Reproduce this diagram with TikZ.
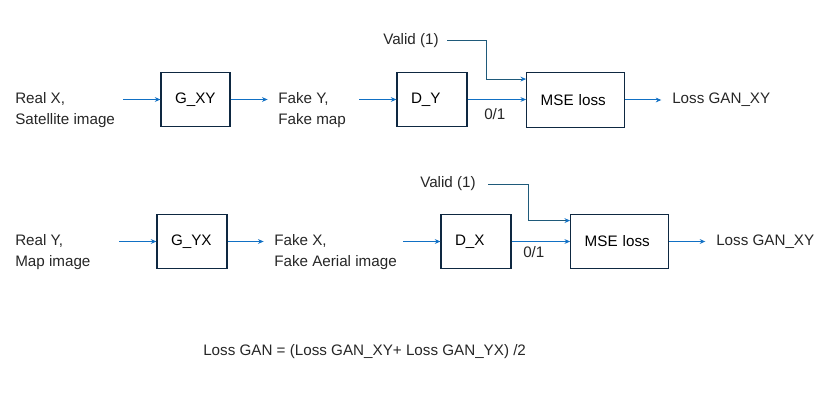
\documentclass[tikz,border=0pt]{standalone}
\usepackage{fontspec}
\setmainfont{Liberation Sans}
\usetikzlibrary{arrows.meta,calc}
\definecolor{txt}{HTML}{262626}
\definecolor{boxc}{HTML}{0E2841}
\definecolor{arrc}{HTML}{1170C4}
\definecolor{valc}{HTML}{1F5A7A}
\tikzset{
  lbl/.style={anchor=west,inner sep=0pt,align=left,text=txt,font=\fontsize{11.4pt}{15.75pt}\selectfont},
  blk/.style={draw=boxc,line width=0.9pt,minimum height=41pt,inner xsep=10.5pt,align=left,text=black,font=\fontsize{11.4pt}{13pt}\selectfont},
  arr/.style={draw=arrc,line width=0.75pt,-{Stealth[length=4.2pt,width=3.6pt]}},
  varr/.style={draw=valc,line width=0.75pt,-{Stealth[length=4.2pt,width=3.6pt,color=arrc]}}
}
\begin{document}
\begin{tikzpicture}[x=0.75pt,y=-0.75pt]
\useasboundingbox (0,0) rectangle (838,406);
% row 1
\node[lbl] (realx) at (15,110) {Real X,\\Satellite image};
\node[blk,text width=30.75pt] (gxy) at (195.5,99.5) {G\_XY};
\node[lbl] (fakey) at (278,110) {Fake Y,\\Fake map};
\node[blk,text width=31.5pt] (dy) at (432,99.5) {D\_Y};
\node[blk,text width=52.5pt] (mse1) at (575.7,100) {MSE loss};
\node[lbl] (loss1) at (672,100) {Loss GAN\_XY};
\node[lbl] (valid1) at (383,41) {Valid (1)};
\node[lbl] (zo1) at (484,114) {0/1};
\draw[arr] ($(gxy.west)+(-37,0)$) -- (gxy.west);
\draw[arr] (gxy.east) -- ($(gxy.east)+(37,0)$);
\draw[arr] ($(dy.west)+(-37,0)$) -- (dy.west);
\draw[arr] (dy.east) -- (dy.east -| mse1.west);
\draw[arr] (mse1.east) -- ($(mse1.east)+(36,0)$);
\draw[varr] ($(valid1.east)+(8,0)$) -| ($(mse1.north west)+(-40,7)$) -- ($(mse1.north west)+(0,7)$);
% row 2
\node[lbl] (realy) at (15,252) {Real Y,\\Map image};
\node[blk,text width=31.5pt] (gyx) at (192,241.5) {G\_YX};
\node[lbl] (fakex) at (274,252) {Fake X,\\Fake Aerial image};
\node[blk,text width=31.5pt] (dx) at (476,241.5) {D\_X};
\node[blk,text width=52.5pt] (mse2) at (619.7,241.5) {MSE loss};
\node[lbl] (loss2) at (716,242) {Loss GAN\_XY};
\node[lbl] (valid2) at (420,184) {Valid (1)};
\node[lbl] (zo2) at (523,252) {0/1};
\draw[arr] ($(gyx.west)+(-37,0)$) -- (gyx.west);
\draw[arr] (gyx.east) -- ($(gyx.east)+(36,0)$);
\draw[arr] ($(dx.west)+(-37,0)$) -- (dx.west);
\draw[arr] (dx.east) -- (dx.east -| mse2.west);
\draw[arr] (mse2.east) -- ($(mse2.east)+(36,0)$);
\draw[varr] ($(valid2.east)+(12,0)$) -| ($(mse2.north west)+(-42,7)$) -- ($(mse2.north west)+(0,7)$);
% bottom
\node[lbl] (total) at (203,352) {Loss GAN = (Loss GAN\_XY+ Loss GAN\_YX) /2};
\end{tikzpicture}
\end{document}
